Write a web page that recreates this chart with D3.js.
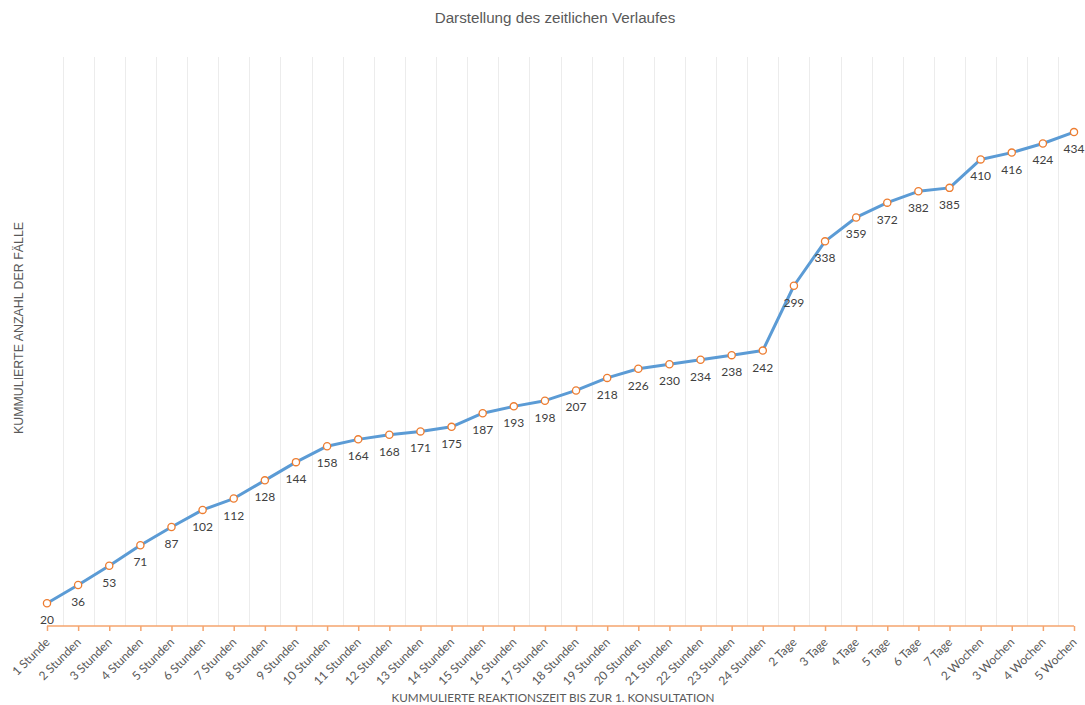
<!DOCTYPE html>
<html><head><meta charset="utf-8">
<script src="https://cdn.jsdelivr.net/npm/d3@7"></script>
<style>body{margin:0;background:#fff}svg{display:block}</style>
</head><body>
<svg id="c" width="1085" height="705"></svg>
<script>
const categories = ["1 Stunde","2 Stunden","3 Stunden","4 Stunden","5 Stunden","6 Stunden","7 Stunden","8 Stunden","9 Stunden","10 Stunden","11 Stunden","12 Stunden","13 Stunden","14 Stunden","15 Stunden","16 Stunden","17 Stunden","18 Stunden","19 Stunden","20 Stunden","21 Stunden","22 Stunden","23 Stunden","24 Stunden","2 Tage","3 Tage","4 Tage","5 Tage","6 Tage","7 Tage","2 Wochen","3 Wochen","4 Wochen","5 Wochen"];
const values = [20,36,53,71,87,102,112,128,144,158,164,168,171,175,187,193,198,207,218,226,230,234,238,242,299,338,359,372,382,385,410,416,424,434];
const yDomain = [0, 500];
const title = "Darstellung des zeitlichen Verlaufes";
const xTitle = "KUMMULIERTE REAKTIONSZEIT BIS ZUR 1. KONSULTATION";
const yTitle = "KUMMULIERTE ANZAHL DER FÄLLE";

const svg = d3.select("#c");
const x = d3.scalePoint().domain(categories).range([47, 1074]);
const y = d3.scaleLinear().domain(yDomain).range([626, 57]);
const step = x.step();

// gridlines between categories
svg.append("g").selectAll("line").data(categories.slice(0, -1)).join("line")
  .attr("x1", d => Math.round(x(d) + step / 2) + 0.5)
  .attr("x2", d => Math.round(x(d) + step / 2) + 0.5)
  .attr("y1", y(yDomain[1])).attr("y2", y(0))
  .attr("stroke", "#ececec").attr("stroke-width", 1);

// x axis
const xAxis = svg.append("g").attr("transform", `translate(0,${y(0)})`)
  .call(d3.axisBottom(x).tickSizeInner(5).tickSizeOuter(0));
xAxis.select(".domain").attr("stroke", "#F4A46E").attr("stroke-width", 1.5)
  .attr("d", `M${x(categories[0])},0H${x(categories[categories.length-1])}`);
xAxis.selectAll(".tick line").attr("stroke", "#F4A46E").attr("stroke-width", 1.5);
xAxis.selectAll(".tick text")
  .attr("font-family", "Lato, 'Open Sans', sans-serif").attr("font-size", 12)
  .attr("fill", "#595959")
  .attr("text-anchor", "end")
  .attr("x", 0).attr("y", 0).attr("dy", 0)
  .attr("transform", "translate(3,17) rotate(-45)");

// line
const line = d3.line().x((d, i) => x(categories[i])).y(d => y(d));
svg.append("path").datum(values).attr("d", line)
  .attr("fill", "none").attr("stroke", "#5B9BD5").attr("stroke-width", 3)
  .attr("stroke-linejoin", "round").attr("stroke-linecap", "round");

// markers
svg.append("g").selectAll("circle").data(values).join("circle")
  .attr("cx", (d, i) => x(categories[i])).attr("cy", d => y(d)).attr("r", 3.6)
  .attr("fill", "#fff").attr("stroke", "#ED7D31").attr("stroke-width", 1.3);

// data labels
svg.append("g").selectAll("text").data(values).join("text")
  .attr("x", (d, i) => x(categories[i])).attr("y", d => y(d) + 21)
  .attr("text-anchor", "middle")
  .attr("font-family", "Lato, 'Open Sans', sans-serif").attr("font-size", 12)
  .attr("fill", "#404040").text(d => d);

// titles
svg.append("text").attr("x", 555).attr("y", 23).attr("text-anchor", "middle")
  .attr("font-family", "'Liberation Sans', Arial, sans-serif").attr("font-size", 15.2)
  .attr("fill", "#595959").text(title);
svg.append("text").attr("x", 553).attr("y", 702).attr("text-anchor", "middle")
  .attr("font-family", "Lato, 'Open Sans', sans-serif").attr("font-size", 11.7)
  .attr("fill", "#595959").text(xTitle);
svg.append("text").attr("transform", "translate(23,328) rotate(-90)").attr("text-anchor", "middle")
  .attr("font-family", "'Liberation Sans', Arial, sans-serif").attr("font-size", 12.4)
  .attr("fill", "#595959").text(yTitle);
</script>
</body></html>
